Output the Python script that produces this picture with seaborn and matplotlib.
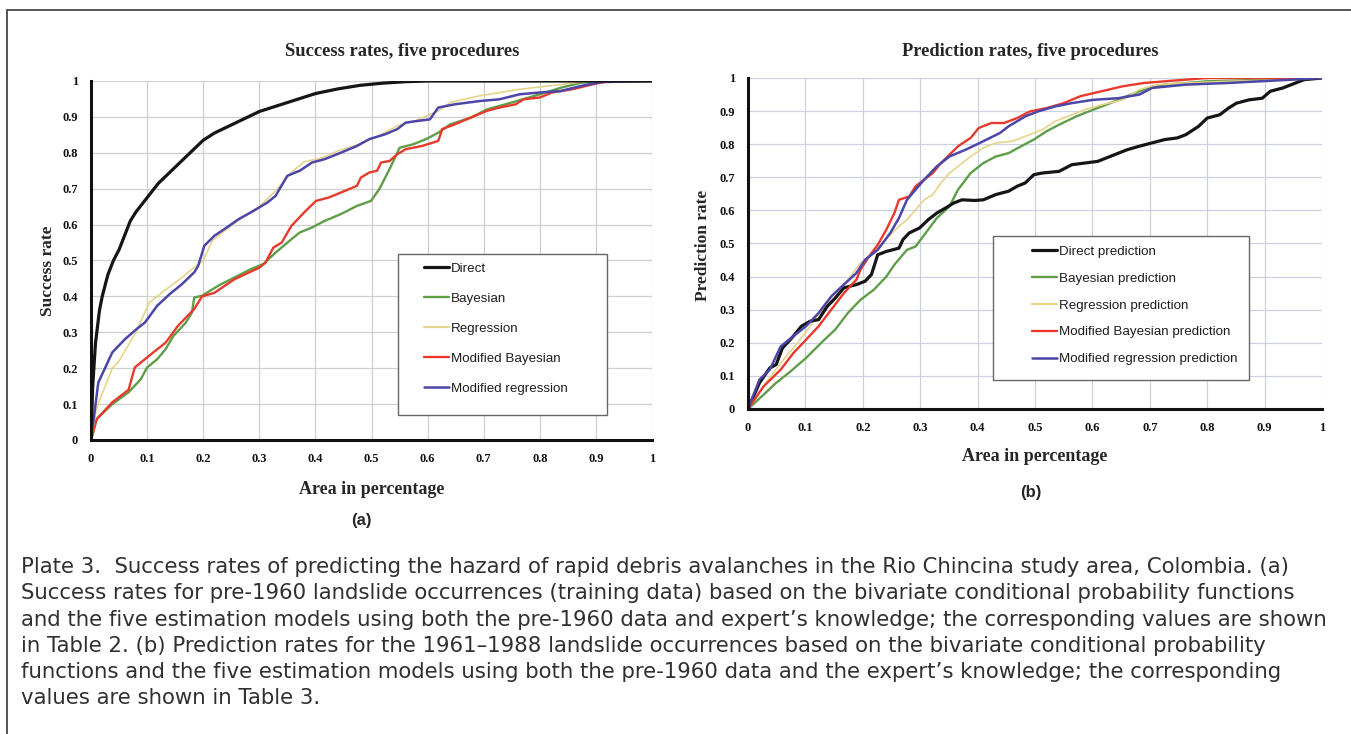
import numpy as np
import pandas as pd
import matplotlib
matplotlib.use("Agg")
import matplotlib.pyplot as plt
import seaborn as sns
from matplotlib.patches import Rectangle
from matplotlib.lines import Line2D
from matplotlib.ticker import MultipleLocator

# ---------------- data : (a) success rates ----------------
a_direct_x = [0, 0.003, 0.008, 0.015, 0.02, 0.03, 0.04, 0.05, 0.06, 0.07, 0.08, 0.09, 0.10, 0.12, 0.14,
              0.16, 0.18, 0.20, 0.22, 0.24, 0.26, 0.28, 0.30, 0.33, 0.36, 0.40, 0.44, 0.48, 0.52, 0.56,
              0.60, 0.70, 0.80, 0.90, 1.0]
a_direct_y = [0, 0.15, 0.27, 0.36, 0.40, 0.46, 0.50, 0.53, 0.57, 0.61, 0.635, 0.655, 0.675, 0.715, 0.745,
              0.775, 0.805, 0.835, 0.855, 0.87, 0.885, 0.90, 0.915, 0.93, 0.945, 0.965, 0.978, 0.988, 0.994,
              0.998, 1.0, 1.0, 1.0, 1.0, 1.0]

a_bayes_x = [0, 0.01, 0.038, 0.067, 0.089, 0.10, 0.118, 0.133, 0.147, 0.169, 0.18, 0.184, 0.198, 0.227,
             0.256, 0.285, 0.307, 0.329, 0.357, 0.372, 0.394, 0.416, 0.445, 0.474, 0.499, 0.514, 0.532,
             0.55, 0.575, 0.597, 0.619, 0.64, 0.677, 0.706, 0.75, 0.80, 0.837, 0.873, 0.91, 1.0]
a_bayes_y = [0, 0.058, 0.10, 0.133, 0.17, 0.202, 0.225, 0.253, 0.29, 0.327, 0.355, 0.397, 0.402, 0.43,
             0.453, 0.476, 0.49, 0.522, 0.559, 0.578, 0.592, 0.61, 0.629, 0.652, 0.666, 0.699, 0.754,
             0.814, 0.824, 0.838, 0.856, 0.879, 0.898, 0.921, 0.94, 0.963, 0.981, 0.995, 1.0, 1.0]

a_regr_x = [0, 0.01, 0.038, 0.05, 0.08, 0.104, 0.13, 0.16, 0.18, 0.20, 0.216, 0.24, 0.27, 0.30, 0.329,
            0.357, 0.38, 0.41, 0.44, 0.48, 0.51, 0.546, 0.58, 0.62, 0.64, 0.69, 0.764, 0.837, 0.888, 1.0]
a_regr_y = [0, 0.09, 0.20, 0.22, 0.30, 0.383, 0.415, 0.45, 0.476, 0.50, 0.555, 0.585, 0.62, 0.65, 0.694,
            0.745, 0.775, 0.785, 0.805, 0.825, 0.845, 0.875, 0.89, 0.917, 0.94, 0.958, 0.977, 0.99, 1.0, 1.0]

a_mbayes_x = [0, 0.01, 0.038, 0.067, 0.078, 0.111, 0.133, 0.155, 0.184, 0.198, 0.22, 0.256, 0.30, 0.311,
              0.325, 0.34, 0.357, 0.38, 0.401, 0.423, 0.445, 0.474, 0.481, 0.496, 0.51, 0.517, 0.532,
              0.546, 0.561, 0.59, 0.619, 0.626, 0.648, 0.677, 0.706, 0.728, 0.757, 0.771, 0.80, 0.822,
              0.858, 0.895, 0.924, 1.0]
a_mbayes_y = [0, 0.058, 0.105, 0.14, 0.202, 0.244, 0.271, 0.318, 0.365, 0.40, 0.41, 0.448, 0.48, 0.494,
              0.536, 0.55, 0.596, 0.634, 0.666, 0.675, 0.689, 0.708, 0.731, 0.745, 0.75, 0.773, 0.777,
              0.796, 0.81, 0.819, 0.833, 0.866, 0.879, 0.898, 0.917, 0.926, 0.935, 0.949, 0.954, 0.968,
              0.977, 0.991, 1.0, 1.0]

a_mregr_x = [0, 0.013, 0.038, 0.06, 0.082, 0.096, 0.118, 0.14, 0.162, 0.184, 0.191, 0.202, 0.22, 0.242,
             0.263, 0.285, 0.314, 0.329, 0.35, 0.372, 0.394, 0.416, 0.445, 0.474, 0.496, 0.525, 0.546,
             0.561, 0.583, 0.604, 0.619, 0.648, 0.692, 0.728, 0.764, 0.80, 0.837, 0.873, 0.909, 1.0]
a_mregr_y = [0, 0.16, 0.244, 0.28, 0.31, 0.327, 0.374, 0.406, 0.434, 0.467, 0.485, 0.541, 0.569, 0.592,
             0.615, 0.634, 0.661, 0.68, 0.736, 0.75, 0.773, 0.782, 0.80, 0.819, 0.838, 0.852, 0.866,
             0.884, 0.889, 0.893, 0.926, 0.935, 0.944, 0.949, 0.963, 0.968, 0.972, 0.986, 0.997, 1.0]

# ---------------- data : (b) prediction rates ----------------
b_direct_x = [0, 0.02, 0.038, 0.049, 0.06, 0.079, 0.093, 0.108, 0.123, 0.138, 0.152, 0.167, 0.189, 0.204,
              0.215, 0.226, 0.241, 0.263, 0.27, 0.281, 0.299, 0.314, 0.329, 0.344, 0.358, 0.373, 0.395,
              0.41, 0.432, 0.454, 0.469, 0.483, 0.498, 0.513, 0.542, 0.564, 0.586, 0.609, 0.631, 0.66,
              0.682, 0.704, 0.726, 0.748, 0.763, 0.785, 0.80, 0.822, 0.837, 0.851, 0.873, 0.896, 0.91,
              0.932, 0.954, 0.969, 1.0]
b_direct_y = [0, 0.079, 0.124, 0.134, 0.184, 0.22, 0.25, 0.265, 0.27, 0.31, 0.335, 0.366, 0.376, 0.386,
              0.406, 0.466, 0.476, 0.486, 0.512, 0.532, 0.547, 0.572, 0.592, 0.607, 0.622, 0.632, 0.63,
              0.632, 0.648, 0.658, 0.673, 0.683, 0.708, 0.713, 0.718, 0.738, 0.743, 0.748, 0.763, 0.783,
              0.794, 0.804, 0.814, 0.819, 0.829, 0.854, 0.879, 0.889, 0.909, 0.924, 0.934, 0.939, 0.96,
              0.97, 0.985, 0.995, 1.0]

b_bayes_x = [0, 0.027, 0.049, 0.071, 0.101, 0.13, 0.152, 0.174, 0.196, 0.219, 0.241, 0.255, 0.277, 0.292,
             0.314, 0.329, 0.351, 0.366, 0.388, 0.41, 0.432, 0.454, 0.476, 0.498, 0.52, 0.542, 0.572,
             0.601, 0.631, 0.66, 0.69, 0.726, 0.80, 0.91, 1.0]
b_bayes_y = [0, 0.043, 0.079, 0.109, 0.154, 0.204, 0.24, 0.29, 0.33, 0.36, 0.40, 0.436, 0.481, 0.491,
             0.542, 0.577, 0.612, 0.663, 0.713, 0.743, 0.763, 0.773, 0.794, 0.814, 0.839, 0.859, 0.884,
             0.904, 0.924, 0.945, 0.965, 0.98, 0.99, 0.995, 1.0]

b_regr_x = [0, 0.027, 0.057, 0.086, 0.108, 0.123, 0.152, 0.174, 0.196, 0.211, 0.233, 0.263, 0.277, 0.292,
            0.307, 0.322, 0.336, 0.351, 0.366, 0.388, 0.41, 0.432, 0.461, 0.491, 0.513, 0.535, 0.557,
            0.586, 0.616, 0.653, 0.682, 0.712, 0.763, 0.837, 0.947, 1.0]
b_regr_y = [0, 0.068, 0.139, 0.199, 0.25, 0.285, 0.34, 0.391, 0.441, 0.461, 0.501, 0.552, 0.572, 0.602,
            0.632, 0.648, 0.683, 0.713, 0.733, 0.763, 0.789, 0.804, 0.809, 0.829, 0.844, 0.869, 0.884,
            0.904, 0.919, 0.934, 0.965, 0.98, 0.985, 0.99, 0.995, 1.0]

b_mbayes_x = [0, 0.027, 0.057, 0.079, 0.101, 0.123, 0.145, 0.167, 0.189, 0.196, 0.211, 0.226, 0.241,
              0.255, 0.263, 0.281, 0.292, 0.307, 0.322, 0.336, 0.351, 0.366, 0.388, 0.402, 0.424, 0.446,
              0.469, 0.491, 0.52, 0.55, 0.579, 0.616, 0.653, 0.69, 0.726, 0.80, 1.0]
b_mbayes_y = [0, 0.068, 0.119, 0.169, 0.209, 0.25, 0.30, 0.35, 0.391, 0.421, 0.461, 0.496, 0.542, 0.592,
              0.632, 0.642, 0.673, 0.693, 0.713, 0.743, 0.768, 0.794, 0.819, 0.849, 0.864, 0.864, 0.879,
              0.899, 0.909, 0.924, 0.945, 0.96, 0.975, 0.985, 0.99, 1.0, 1.0]

b_mregr_x = [0, 0.02, 0.038, 0.057, 0.079, 0.101, 0.123, 0.145, 0.167, 0.189, 0.204, 0.226, 0.248, 0.263,
             0.277, 0.292, 0.307, 0.329, 0.351, 0.38, 0.41, 0.439, 0.454, 0.483, 0.505, 0.535, 0.564,
             0.601, 0.645, 0.682, 0.704, 0.763, 0.837, 0.947, 1.0]
b_mregr_y = [0, 0.089, 0.119, 0.189, 0.22, 0.25, 0.29, 0.34, 0.376, 0.411, 0.451, 0.481, 0.532, 0.577,
             0.632, 0.663, 0.693, 0.733, 0.763, 0.784, 0.809, 0.834, 0.854, 0.884, 0.899, 0.914, 0.924,
             0.934, 0.939, 0.95, 0.97, 0.98, 0.985, 0.995, 1.0]

a_labels = ["Direct", "Bayesian", "Regression", "Modified Bayesian", "Modified regression"]
b_labels = ["Direct prediction", "Bayesian prediction", "Regression prediction",
            "Modified Bayesian prediction", "Modified regression prediction"]
tick_values = [0, 0.1, 0.2, 0.3, 0.4, 0.5, 0.6, 0.7, 0.8, 0.9, 1]
tick_labels = ["0", "0.1", "0.2", "0.3", "0.4", "0.5", "0.6", "0.7", "0.8", "0.9", "1"]

caption_lines = [
    "Plate 3.  Success rates of predicting the hazard of rapid debris avalanches in the Rio Chincina study area, Colombia. (a)",
    "Success rates for pre-1960 landslide occurrences (training data) based on the bivariate conditional probability functions",
    "and the five estimation models using both the pre-1960 data and expert\u2019s knowledge; the corresponding values are shown",
    "in Table 2. (b) Prediction rates for the 1961\u20131988 landslide occurrences based on the bivariate conditional probability",
    "functions and the five estimation models using both the pre-1960 data and the expert\u2019s knowledge; the corresponding",
    "values are shown in Table 3.",
]

# ---------------- styling ----------------
sns.set_style("white")
plt.rcParams["font.family"] = ["Liberation Serif", "DejaVu Serif"]

colors = ["#151515", "#5f9e48", "#e6d48a", "#e8392d", "#4b46a8"]
widths = [2.3, 1.7, 1.2, 1.7, 1.8]

W, H = 1351, 734
fig = plt.figure(figsize=(W / 100, H / 100), dpi=100)
fig.patch.set_facecolor("white")


def make_df(xs, ys, labels):
    frames = []
    for x, y, lab in zip(xs, ys, labels):
        frames.append(pd.DataFrame({"area": x, "rate": y, "series": lab}))
    return pd.concat(frames, ignore_index=True)


df_a = make_df([a_direct_x, a_bayes_x, a_regr_x, a_mbayes_x, a_mregr_x],
               [a_direct_y, a_bayes_y, a_regr_y, a_mbayes_y, a_mregr_y], a_labels)
df_b = make_df([b_direct_x, b_bayes_x, b_regr_x, b_mbayes_x, b_mregr_x],
               [b_direct_y, b_bayes_y, b_regr_y, b_mbayes_y, b_mregr_y], b_labels)


def px_axes(x0, x1, ytop, ybot):
    return fig.add_axes([x0 / W, 1 - ybot / H, (x1 - x0) / W, (ybot - ytop) / H])


def style_axes(ax, gridcolor):
    ax.set_xlim(0, 1)
    ax.set_ylim(0, 1)
    ax.set_facecolor("white")
    for s in ["top", "right"]:
        ax.spines[s].set_visible(False)
    for s in ["left", "bottom"]:
        ax.spines[s].set_linewidth(2.2)
        ax.spines[s].set_color("#111111")
    ax.xaxis.set_minor_locator(MultipleLocator(0.05))
    ax.yaxis.set_minor_locator(MultipleLocator(0.01))
    ax.set_xticks(tick_values)
    ax.set_yticks(tick_values)
    ax.set_xticklabels(tick_labels, fontweight="bold")
    ax.set_yticklabels(tick_labels, fontweight="bold")
    ax.grid(True, which="major", color=gridcolor, linewidth=0.9)
    ax.set_axisbelow(True)
    ax.tick_params(axis="both", which="major", direction="inout", length=7, width=1.8,
                   colors="#111111", labelsize=9, pad=6)
    ax.tick_params(axis="y", which="minor", direction="inout", length=5, width=1.2, colors="#111111")
    ax.tick_params(axis="x", which="minor", direction="inout", length=5, width=1.4, colors="#111111")


def draw(ax, df, labels, order):
    for i in order:
        sub = df[df["series"] == labels[i]]
        sns.lineplot(data=sub, x="area", y="rate", ax=ax, color=colors[i], linewidth=widths[i],
                     estimator=None, sort=False, legend=False)


def add_legend(ax, labels, frame, anchor, spacing):
    handles = [Line2D([], [], color=c, linewidth=max(lw, 1.6)) for c, lw in zip(colors, widths)]
    leg = ax.legend(handles, labels, loc="upper left", bbox_to_anchor=anchor, frameon=False,
                    borderpad=0, borderaxespad=0, handlelength=1.9, handletextpad=0.1,
                    labelspacing=spacing, prop={"family": "Liberation Sans", "size": 9.6})
    for t in leg.get_texts():
        t.set_color("#1e1e1e")
    ax.add_patch(Rectangle((frame[0], frame[1]), frame[2], frame[3], transform=ax.transAxes,
                           facecolor="white", edgecolor="#666666", linewidth=1.0, zorder=4))
    leg.set_zorder(5)


def labels_for(ax, xlabel, ylabel, xl_pos, yl_pos):
    ax.set_xlabel(xlabel, fontsize=13, fontweight="bold")
    ax.set_ylabel(ylabel, fontsize=12.5, fontweight="bold")
    ax.xaxis.set_label_coords(*xl_pos)
    ax.yaxis.set_label_coords(*yl_pos)
    ax.xaxis.label.set_va("center")
    ax.yaxis.label.set_va("center")


# ---------- panel (a) ----------
axa = px_axes(91, 652, 81, 440)
style_axes(axa, "#cfcfcf")
draw(axa, df_a, a_labels, [1, 3, 2, 4, 0])
labels_for(axa, "Area in percentage", "Success rate", (0.5, -0.139), (-0.076, 0.471))
fig.text(402 / W, 1 - 52 / H, "Success rates, five procedures", ha="center", va="center",
         fontsize=13.3, fontweight="bold")
add_legend(axa, a_labels, (0.547, 0.0696, 0.3725, 0.4485), (0.5936, 0.495), 1.33)

# ---------- panel (b) ----------
axb = px_axes(748, 1322, 78, 409)
style_axes(axb, "#cdd0e2")
draw(axb, df_b, b_labels, [1, 2, 0, 3, 4])
labels_for(axb, "Area in percentage", "Prediction rate", (0.5, -0.142), (-0.078, 0.495))
fig.text(1030 / W, 1 - 52 / H, "Prediction rates, five procedures", ha="center", va="center",
         fontsize=13.3, fontweight="bold")
add_legend(axb, b_labels, (0.4268, 0.0876, 0.446, 0.435), (0.4948, 0.494), 1.09)

# panel letters
fig.text(361 / W, 1 - 521 / H, "(a)", ha="center", va="center", fontsize=12, fontweight="bold",
         family="Liberation Sans")
fig.text(1031 / W, 1 - 493 / H, "(b)", ha="center", va="center", fontsize=12, fontweight="bold",
         family="Liberation Sans")

# caption
for i, line in enumerate(caption_lines):
    fig.text(21 / W, 1 - (567 + 26.3 * i) / H, line, ha="left", va="center", fontsize=15.3,
             family="DejaVu Sans", color="#303030")

# page frame (left and top rules)
fig.add_artist(Line2D([7 / W, 7 / W], [0, 1 - 10 / H], transform=fig.transFigure,
                      color="#555555", linewidth=1.4))
fig.add_artist(Line2D([7 / W, 1], [1 - 10 / H, 1 - 10 / H], transform=fig.transFigure,
                      color="#555555", linewidth=1.4))

fig.savefig("out.png", dpi=100, facecolor="white")
